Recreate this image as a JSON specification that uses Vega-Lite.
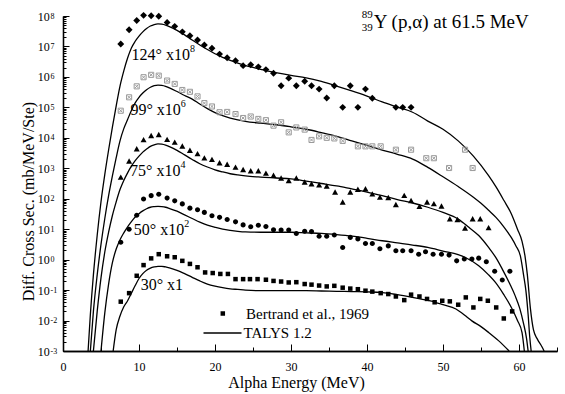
{
"$schema": "https://vega.github.io/schema/vega-lite/v6.json",
"width": 494, "height": 335,
"autosize": {"type": "none"},
"padding": {"left": 63, "top": 16, "right": 8, "bottom": 43},
"config": {
  "font": "Times New Roman, Liberation Serif, serif",
  "view": {"stroke": null},
  "text": {"font": "Times New Roman, Liberation Serif, serif"},
  "axis": {"grid": false, "domainColor": "black", "tickColor": "black", "labelColor": "black", "titleColor": "black", "labelFont": "Times New Roman, Liberation Serif, serif", "titleFont": "Times New Roman, Liberation Serif, serif", "titleFontWeight": "normal", "domainWidth": 1.3, "tickWidth": 1},
  "legend": {"labelFont": "Times New Roman, Liberation Serif, serif", "labelColor": "black", "padding": 0, "offset": 0}
},
"datasets": {
"pts": [
{"a":"124","E":7.6,"v":1.2e7},{"a":"124","E":8.7,"v":3.55e7},{"a":"124","E":9.7,"v":7.08e7},{"a":"124","E":10.6,"v":1.05e8},{"a":"124","E":11.6,"v":1.02e8},{"a":"124","E":12.6,"v":9.8e7},{"a":"124","E":13.7,"v":6.17e7},{"a":"124","E":14.7,"v":4.57e7},{"a":"124","E":15.7,"v":3.02e7},{"a":"124","E":16.7,"v":2.24e7},{"a":"124","E":17.7,"v":1.62e7},{"a":"124","E":18.6,"v":1.12e7},{"a":"124","E":19.6,"v":8.71e6},{"a":"124","E":20.6,"v":5.62e6},{"a":"124","E":21.6,"v":4.27e6},{"a":"124","E":22.7,"v":3.39e6},{"a":"124","E":23.7,"v":2.34e6},{"a":"124","E":24.7,"v":2.51e6},{"a":"124","E":25.7,"v":2.14e6},{"a":"124","E":26.7,"v":1.74e6},{"a":"124","E":27.7,"v":1.32e6},{"a":"124","E":28.7,"v":5.13e5},{"a":"124","E":29.7,"v":9.12e5},{"a":"124","E":30.7,"v":5.13e5},{"a":"124","E":31.8,"v":7.24e5},{"a":"124","E":32.7,"v":5.13e5},{"a":"124","E":33.7,"v":3.98e5},{"a":"124","E":34.7,"v":2.04e5},{"a":"124","E":35.7,"v":5.13e5},{"a":"124","E":36.8,"v":1e5},{"a":"124","E":37.8,"v":5.13e5},{"a":"124","E":38.8,"v":1e5},{"a":"124","E":39.8,"v":3.98e5},{"a":"124","E":40.7,"v":2e5},{"a":"124","E":43.8,"v":1e5},{"a":"124","E":44.7,"v":1e5},{"a":"124","E":45.8,"v":1e5},
{"a":"99","E":7.6,"v":7.76e4},{"a":"99","E":8.7,"v":2.14e5},{"a":"99","E":9.7,"v":4.9e5},{"a":"99","E":10.6,"v":9.77e5},{"a":"99","E":11.6,"v":1.17e6},{"a":"99","E":12.6,"v":1.1e6},{"a":"99","E":13.7,"v":7.59e5},{"a":"99","E":14.7,"v":5.89e5},{"a":"99","E":15.7,"v":3.72e5},{"a":"99","E":16.7,"v":3.24e5},{"a":"99","E":17.7,"v":2.29e5},{"a":"99","E":18.6,"v":1.38e5},{"a":"99","E":19.6,"v":1.07e5},{"a":"99","E":20.6,"v":6.92e4},{"a":"99","E":21.6,"v":7.08e4},{"a":"99","E":22.7,"v":6.03e4},{"a":"99","E":23.7,"v":4.47e4},{"a":"99","E":24.7,"v":5.01e4},{"a":"99","E":25.7,"v":4.17e4},{"a":"99","E":26.7,"v":3.8e4},{"a":"99","E":27.7,"v":2.51e4},{"a":"99","E":28.7,"v":3.24e4},{"a":"99","E":29.7,"v":1.51e4},{"a":"99","E":30.7,"v":2.19e4},{"a":"99","E":31.8,"v":1.86e4},{"a":"99","E":32.7,"v":8.51e3},{"a":"99","E":33.7,"v":1.12e4},{"a":"99","E":34.7,"v":1e4},{"a":"99","E":35.7,"v":9.55e3},{"a":"99","E":36.8,"v":7.94e3},{"a":"99","E":38.8,"v":5.25e3},{"a":"99","E":39.8,"v":5.25e3},{"a":"99","E":40.7,"v":5.25e3},{"a":"99","E":41.8,"v":5.25e3},{"a":"99","E":43.8,"v":4.07e3},{"a":"99","E":45.8,"v":4.07e3},{"a":"99","E":47.8,"v":2.14e3},{"a":"99","E":48.8,"v":2.14e3},{"a":"99","E":50.8,"v":1.02e3},{"a":"99","E":52.9,"v":4.07e3},{"a":"99","E":53.9,"v":1.02e3},
{"a":"75","E":7.6,"v":501},{"a":"75","E":8.7,"v":1700},{"a":"75","E":9.7,"v":4270},{"a":"75","E":10.6,"v":8510},{"a":"75","E":11.6,"v":11700},{"a":"75","E":12.6,"v":12600},{"a":"75","E":13.7,"v":8710},{"a":"75","E":14.7,"v":7080},{"a":"75","E":15.7,"v":5250},{"a":"75","E":16.7,"v":3800},{"a":"75","E":17.7,"v":2950},{"a":"75","E":18.6,"v":2140},{"a":"75","E":19.6,"v":1910},{"a":"75","E":20.6,"v":1480},{"a":"75","E":21.6,"v":1320},{"a":"75","E":22.7,"v":1070},{"a":"75","E":23.7,"v":891},{"a":"75","E":24.7,"v":813},{"a":"75","E":25.7,"v":813},{"a":"75","E":26.7,"v":676},{"a":"75","E":27.7,"v":575},{"a":"75","E":28.7,"v":468},{"a":"75","E":29.7,"v":389},{"a":"75","E":30.7,"v":468},{"a":"75","E":31.8,"v":347},{"a":"75","E":32.7,"v":302},{"a":"75","E":33.7,"v":282},{"a":"75","E":34.7,"v":257},{"a":"75","E":35.8,"v":162},{"a":"75","E":36.8,"v":75.9},{"a":"75","E":37.8,"v":162},{"a":"75","E":38.8,"v":200},{"a":"75","E":39.8,"v":209},{"a":"75","E":40.7,"v":141},{"a":"75","E":41.7,"v":110},{"a":"75","E":42.8,"v":107},{"a":"75","E":43.8,"v":63.1},{"a":"75","E":44.9,"v":126},{"a":"75","E":45.8,"v":85.1},{"a":"75","E":46.9,"v":55},{"a":"75","E":47.9,"v":75.9},{"a":"75","E":48.8,"v":67.6},{"a":"75","E":49.8,"v":56.2},{"a":"75","E":50.9,"v":21.4},{"a":"75","E":51.9,"v":20.4},{"a":"75","E":52.9,"v":10.7},{"a":"75","E":53.9,"v":21.4},{"a":"75","E":54.9,"v":21.4},{"a":"75","E":56.0,"v":11},
{"a":"50","E":7.6,"v":3.72},{"a":"50","E":8.7,"v":10},{"a":"50","E":9.7,"v":28.8},{"a":"50","E":10.6,"v":97.7},{"a":"50","E":11.6,"v":126},{"a":"50","E":12.6,"v":141},{"a":"50","E":13.7,"v":105},{"a":"50","E":14.7,"v":85.1},{"a":"50","E":15.7,"v":67.6},{"a":"50","E":16.7,"v":49},{"a":"50","E":17.7,"v":43.7},{"a":"50","E":18.6,"v":35.5},{"a":"50","E":19.6,"v":27.5},{"a":"50","E":20.6,"v":24.5},{"a":"50","E":21.6,"v":20.9},{"a":"50","E":22.7,"v":17.4},{"a":"50","E":23.7,"v":13.8},{"a":"50","E":24.7,"v":12},{"a":"50","E":25.7,"v":13.5},{"a":"50","E":26.7,"v":12.3},{"a":"50","E":27.7,"v":9.55},{"a":"50","E":28.7,"v":9.33},{"a":"50","E":29.7,"v":9.33},{"a":"50","E":30.7,"v":7.24},{"a":"50","E":31.8,"v":8.51},{"a":"50","E":32.7,"v":8.32},{"a":"50","E":33.7,"v":5.89},{"a":"50","E":34.7,"v":5.89},{"a":"50","E":35.7,"v":6.46},{"a":"50","E":36.8,"v":2.51},{"a":"50","E":37.8,"v":5.37},{"a":"50","E":38.8,"v":4.79},{"a":"50","E":39.8,"v":3.39},{"a":"50","E":40.7,"v":3.39},{"a":"50","E":41.7,"v":2.29},{"a":"50","E":42.8,"v":2.82},{"a":"50","E":43.8,"v":1.95},{"a":"50","E":44.7,"v":1.95},{"a":"50","E":45.8,"v":1.95},{"a":"50","E":46.8,"v":1.51},{"a":"50","E":47.7,"v":1.82},{"a":"50","E":48.7,"v":1.51},{"a":"50","E":49.8,"v":1.51},{"a":"50","E":50.8,"v":1.41},{"a":"50","E":51.8,"v":0.912},{"a":"50","E":52.8,"v":1.05},{"a":"50","E":53.8,"v":1.05},{"a":"50","E":54.7,"v":1.12},{"a":"50","E":55.7,"v":0.851},{"a":"50","E":56.8,"v":0.417},{"a":"50","E":57.8,"v":0.214},{"a":"50","E":58.8,"v":0.417},
{"a":"30","E":7.6,"v":0.0417},{"a":"30","E":8.7,"v":0.0794},{"a":"30","E":9.7,"v":0.295},{"a":"30","E":10.6,"v":0.661},{"a":"30","E":11.6,"v":1.1},{"a":"30","E":12.6,"v":1.51},{"a":"30","E":13.7,"v":1.29},{"a":"30","E":14.7,"v":1.2},{"a":"30","E":15.7,"v":0.912},{"a":"30","E":16.7,"v":0.724},{"a":"30","E":17.7,"v":0.562},{"a":"30","E":18.7,"v":0.38},{"a":"30","E":19.7,"v":0.363},{"a":"30","E":20.7,"v":0.339},{"a":"30","E":21.7,"v":0.339},{"a":"30","E":22.7,"v":0.229},{"a":"30","E":23.7,"v":0.229},{"a":"30","E":24.6,"v":0.229},{"a":"30","E":25.6,"v":0.229},{"a":"30","E":26.7,"v":0.219},{"a":"30","E":27.7,"v":0.2},{"a":"30","E":28.7,"v":0.191},{"a":"30","E":29.7,"v":0.178},{"a":"30","E":30.7,"v":0.182},{"a":"30","E":31.8,"v":0.158},{"a":"30","E":32.7,"v":0.151},{"a":"30","E":33.7,"v":0.141},{"a":"30","E":34.7,"v":0.132},{"a":"30","E":35.7,"v":0.138},{"a":"30","E":36.8,"v":0.12},{"a":"30","E":37.8,"v":0.112},{"a":"30","E":38.8,"v":0.107},{"a":"30","E":39.8,"v":0.0955},{"a":"30","E":40.7,"v":0.0891},{"a":"30","E":41.8,"v":0.0794},{"a":"30","E":42.8,"v":0.0741},{"a":"30","E":43.8,"v":0.0617},{"a":"30","E":44.9,"v":0.0468},{"a":"30","E":45.8,"v":0.0708},{"a":"30","E":46.9,"v":0.0617},{"a":"30","E":47.9,"v":0.0513},{"a":"30","E":48.9,"v":0.0398},{"a":"30","E":49.9,"v":0.0447},{"a":"30","E":50.9,"v":0.0427},{"a":"30","E":52.0,"v":0.0331},{"a":"30","E":53.0,"v":0.0575},{"a":"30","E":54.0,"v":0.0269},{"a":"30","E":54.9,"v":0.0513},{"a":"30","E":55.9,"v":0.0447},{"a":"30","E":57.0,"v":0.0269},{"a":"30","E":58.0,"v":0.0117},{"a":"30","E":59.1,"v":0.02}
],
"cur": [
{"a":"124","E":3.3,"v":0.001},{"a":"124","E":3.6,"v":0.0158},{"a":"124","E":4.0,"v":0.316},{"a":"124","E":4.5,"v":6.31},{"a":"124","E":5.0,"v":79.4},{"a":"124","E":5.5,"v":631},{"a":"124","E":6.0,"v":3980},{"a":"124","E":6.5,"v":22400},{"a":"124","E":7.0,"v":1.12e5},{"a":"124","E":7.5,"v":5.01e5},{"a":"124","E":8.0,"v":1.58e6},{"a":"124","E":8.5,"v":4.17e6},{"a":"124","E":9.0,"v":8.91e6},{"a":"124","E":9.5,"v":1.48e7},{"a":"124","E":10.0,"v":2.19e7},{"a":"124","E":10.5,"v":3.02e7},{"a":"124","E":11.0,"v":3.89e7},{"a":"124","E":11.5,"v":4.68e7},{"a":"124","E":12.0,"v":5.25e7},{"a":"124","E":12.5,"v":5.5e7},{"a":"124","E":13.0,"v":5.37e7},{"a":"124","E":13.5,"v":5.01e7},{"a":"124","E":14.0,"v":4.47e7},{"a":"124","E":15.0,"v":3.39e7},{"a":"124","E":16.0,"v":2.4e7},{"a":"124","E":17.0,"v":1.62e7},{"a":"124","E":18.0,"v":1.12e7},{"a":"124","E":19.0,"v":7.94e6},{"a":"124","E":20.0,"v":5.75e6},{"a":"124","E":21.0,"v":4.37e6},{"a":"124","E":22.0,"v":3.47e6},{"a":"124","E":23.0,"v":2.82e6},{"a":"124","E":24.0,"v":2.34e6},{"a":"124","E":25.0,"v":2.04e6},{"a":"124","E":26.0,"v":1.78e6},{"a":"124","E":27.0,"v":1.55e6},{"a":"124","E":28.0,"v":1.38e6},{"a":"124","E":30.0,"v":1.12e6},{"a":"124","E":32.0,"v":9.33e5},{"a":"124","E":34.0,"v":7.08e5},{"a":"124","E":36.0,"v":5.01e5},{"a":"124","E":38.0,"v":3.47e5},{"a":"124","E":40.0,"v":2.34e5},{"a":"124","E":42.0,"v":1.51e5},{"a":"124","E":44.0,"v":1.02e5},{"a":"124","E":46.0,"v":6.92e4},{"a":"124","E":48.0,"v":3.55e4},{"a":"124","E":50.0,"v":1.91e4},{"a":"124","E":52.0,"v":7940},{"a":"124","E":54.0,"v":2510},{"a":"124","E":56.0,"v":575},{"a":"124","E":57.0,"v":240},{"a":"124","E":58.0,"v":89.1},{"a":"124","E":59.0,"v":31.6},{"a":"124","E":59.8,"v":10},{"a":"124","E":60.4,"v":3.98},{"a":"124","E":60.8,"v":1.26},{"a":"124","E":61.1,"v":0.316},{"a":"124","E":61.5,"v":0.0251},{"a":"124","E":61.9,"v":0.005},{"a":"124","E":62.4,"v":0.0025},{"a":"124","E":63.0,"v":0.00141},{"a":"124","E":63.3,"v":0.001},
{"a":"99","E":3.6,"v":0.001},{"a":"99","E":4.0,"v":0.02},{"a":"99","E":4.5,"v":0.316},{"a":"99","E":5.0,"v":3.16},{"a":"99","E":5.5,"v":22.4},{"a":"99","E":6.0,"v":126},{"a":"99","E":6.5,"v":562},{"a":"99","E":7.0,"v":2240},{"a":"99","E":7.5,"v":7940},{"a":"99","E":8.0,"v":20000},{"a":"99","E":8.5,"v":39800},{"a":"99","E":9.0,"v":79400},{"a":"99","E":9.5,"v":1.41e5},{"a":"99","E":10.0,"v":2.14e5},{"a":"99","E":10.5,"v":2.95e5},{"a":"99","E":11.0,"v":3.8e5},{"a":"99","E":11.5,"v":4.57e5},{"a":"99","E":12.0,"v":5.13e5},{"a":"99","E":12.5,"v":5.37e5},{"a":"99","E":13.0,"v":5.25e5},{"a":"99","E":13.5,"v":4.9e5},{"a":"99","E":14.0,"v":4.37e5},{"a":"99","E":15.0,"v":3.31e5},{"a":"99","E":16.0,"v":2.45e5},{"a":"99","E":17.0,"v":1.86e5},{"a":"99","E":18.0,"v":1.29e5},{"a":"99","E":19.0,"v":9.12e4},{"a":"99","E":20.0,"v":6.76e4},{"a":"99","E":21.0,"v":5.37e4},{"a":"99","E":22.0,"v":4.47e4},{"a":"99","E":23.0,"v":3.89e4},{"a":"99","E":24.0,"v":3.47e4},{"a":"99","E":26.0,"v":3.02e4},{"a":"99","E":28.0,"v":2.69e4},{"a":"99","E":30.0,"v":2.29e4},{"a":"99","E":32.0,"v":1.91e4},{"a":"99","E":34.0,"v":1.48e4},{"a":"99","E":36.0,"v":1.12e4},{"a":"99","E":38.0,"v":7940},{"a":"99","E":40.0,"v":5620},{"a":"99","E":42.0,"v":3980},{"a":"99","E":44.0,"v":2880},{"a":"99","E":46.0,"v":2000},{"a":"99","E":48.0,"v":1070},{"a":"99","E":50.0,"v":525},{"a":"99","E":52.0,"v":251},{"a":"99","E":54.0,"v":112},{"a":"99","E":55.0,"v":70.8},{"a":"99","E":56.0,"v":41.7},{"a":"99","E":57.0,"v":24},{"a":"99","E":58.0,"v":12},{"a":"99","E":59.0,"v":5.25},{"a":"99","E":59.6,"v":2.82},{"a":"99","E":60.2,"v":1.26},{"a":"99","E":60.6,"v":0.316},{"a":"99","E":60.9,"v":0.1},{"a":"99","E":61.2,"v":0.0158},{"a":"99","E":61.4,"v":0.00316},{"a":"99","E":61.6,"v":0.001},
{"a":"75","E":4.0,"v":0.001},{"a":"75","E":4.5,"v":0.02},{"a":"75","E":5.0,"v":0.251},{"a":"75","E":5.5,"v":1.78},{"a":"75","E":6.0,"v":7.94},{"a":"75","E":6.5,"v":28.2},{"a":"75","E":7.0,"v":79.4},{"a":"75","E":7.5,"v":200},{"a":"75","E":8.0,"v":398},{"a":"75","E":8.5,"v":708},{"a":"75","E":9.0,"v":1170},{"a":"75","E":9.5,"v":1780},{"a":"75","E":10.0,"v":2510},{"a":"75","E":10.5,"v":3390},{"a":"75","E":11.0,"v":4270},{"a":"75","E":11.5,"v":5250},{"a":"75","E":12.0,"v":5890},{"a":"75","E":12.5,"v":6310},{"a":"75","E":13.0,"v":6170},{"a":"75","E":13.5,"v":5750},{"a":"75","E":14.0,"v":5130},{"a":"75","E":15.0,"v":3890},{"a":"75","E":16.0,"v":2750},{"a":"75","E":17.0,"v":1950},{"a":"75","E":18.0,"v":1410},{"a":"75","E":19.0,"v":1100},{"a":"75","E":20.0,"v":891},{"a":"75","E":21.0,"v":759},{"a":"75","E":22.0,"v":661},{"a":"75","E":23.0,"v":603},{"a":"75","E":24.0,"v":562},{"a":"75","E":26.0,"v":513},{"a":"75","E":28.0,"v":479},{"a":"75","E":30.0,"v":447},{"a":"75","E":32.0,"v":380},{"a":"75","E":34.0,"v":316},{"a":"75","E":36.0,"v":263},{"a":"75","E":38.0,"v":209},{"a":"75","E":40.0,"v":166},{"a":"75","E":42.0,"v":126},{"a":"75","E":44.0,"v":93.3},{"a":"75","E":46.0,"v":72.4},{"a":"75","E":48.0,"v":52.5},{"a":"75","E":50.0,"v":35.5},{"a":"75","E":52.0,"v":21.4},{"a":"75","E":53.4,"v":11.5},{"a":"75","E":54.7,"v":6.17},{"a":"75","E":56.0,"v":2.51},{"a":"75","E":57.0,"v":1.12},{"a":"75","E":57.8,"v":0.49},{"a":"75","E":58.8,"v":0.158},{"a":"75","E":59.5,"v":0.0646},{"a":"75","E":60.1,"v":0.0251},{"a":"75","E":60.6,"v":0.00794},{"a":"75","E":61.0,"v":0.00251},{"a":"75","E":61.2,"v":0.001},
{"a":"50","E":5.0,"v":0.001},{"a":"50","E":5.5,"v":0.0178},{"a":"50","E":6.0,"v":0.158},{"a":"50","E":6.5,"v":0.794},{"a":"50","E":7.0,"v":2.24},{"a":"50","E":7.5,"v":4.47},{"a":"50","E":8.0,"v":7.59},{"a":"50","E":8.5,"v":12},{"a":"50","E":9.0,"v":17.8},{"a":"50","E":9.5,"v":25.1},{"a":"50","E":10.0,"v":32.4},{"a":"50","E":10.5,"v":39.8},{"a":"50","E":11.0,"v":46.8},{"a":"50","E":11.5,"v":52.5},{"a":"50","E":12.0,"v":55},{"a":"50","E":12.5,"v":56.2},{"a":"50","E":13.0,"v":55},{"a":"50","E":13.5,"v":52.5},{"a":"50","E":14.0,"v":47.9},{"a":"50","E":15.0,"v":38.9},{"a":"50","E":16.0,"v":29.5},{"a":"50","E":17.0,"v":22.4},{"a":"50","E":18.0,"v":17},{"a":"50","E":19.0,"v":13.5},{"a":"50","E":20.0,"v":11.5},{"a":"50","E":21.0,"v":10},{"a":"50","E":22.0,"v":9.12},{"a":"50","E":23.0,"v":8.51},{"a":"50","E":24.0,"v":8.13},{"a":"50","E":26.0,"v":7.94},{"a":"50","E":28.0,"v":7.94},{"a":"50","E":30.0,"v":7.94},{"a":"50","E":32.0,"v":7.59},{"a":"50","E":34.0,"v":7.24},{"a":"50","E":36.0,"v":6.61},{"a":"50","E":38.0,"v":5.89},{"a":"50","E":40.0,"v":5.01},{"a":"50","E":42.0,"v":4.17},{"a":"50","E":44.0,"v":3.55},{"a":"50","E":46.0,"v":3.02},{"a":"50","E":48.0,"v":2.51},{"a":"50","E":50.0,"v":1.91},{"a":"50","E":52.0,"v":1.45},{"a":"50","E":53.0,"v":1.15},{"a":"50","E":54.7,"v":0.631},{"a":"50","E":56.0,"v":0.316},{"a":"50","E":56.9,"v":0.178},{"a":"50","E":58.0,"v":0.0708},{"a":"50","E":59.1,"v":0.024},{"a":"50","E":59.8,"v":0.01},{"a":"50","E":60.4,"v":0.00398},{"a":"50","E":60.7,"v":0.001},
{"a":"30","E":6.6,"v":0.001},{"a":"30","E":7.0,"v":0.005},{"a":"30","E":7.5,"v":0.0141},{"a":"30","E":8.0,"v":0.0282},{"a":"30","E":8.5,"v":0.0447},{"a":"30","E":9.0,"v":0.0794},{"a":"30","E":9.5,"v":0.141},{"a":"30","E":10.0,"v":0.24},{"a":"30","E":10.5,"v":0.347},{"a":"30","E":11.0,"v":0.447},{"a":"30","E":11.5,"v":0.525},{"a":"30","E":12.0,"v":0.575},{"a":"30","E":12.5,"v":0.603},{"a":"30","E":13.0,"v":0.603},{"a":"30","E":13.5,"v":0.575},{"a":"30","E":14.0,"v":0.537},{"a":"30","E":15.0,"v":0.447},{"a":"30","E":16.0,"v":0.347},{"a":"30","E":17.0,"v":0.263},{"a":"30","E":18.0,"v":0.2},{"a":"30","E":19.0,"v":0.158},{"a":"30","E":20.0,"v":0.135},{"a":"30","E":21.0,"v":0.12},{"a":"30","E":22.0,"v":0.11},{"a":"30","E":23.0,"v":0.105},{"a":"30","E":24.0,"v":0.1},{"a":"30","E":26.0,"v":0.0955},{"a":"30","E":28.0,"v":0.0955},{"a":"30","E":30.0,"v":0.0955},{"a":"30","E":32.0,"v":0.0955},{"a":"30","E":34.0,"v":0.0933},{"a":"30","E":36.0,"v":0.0912},{"a":"30","E":38.0,"v":0.0891},{"a":"30","E":40.0,"v":0.0871},{"a":"30","E":42.0,"v":0.0832},{"a":"30","E":44.0,"v":0.0708},{"a":"30","E":46.0,"v":0.0575},{"a":"30","E":48.0,"v":0.0457},{"a":"30","E":49.0,"v":0.0398},{"a":"30","E":50.0,"v":0.0331},{"a":"30","E":51.7,"v":0.024},{"a":"30","E":53.0,"v":0.0141},{"a":"30","E":53.8,"v":0.00977},{"a":"30","E":55.0,"v":0.00631},{"a":"30","E":56.0,"v":0.00407},{"a":"30","E":57.3,"v":0.00219},{"a":"30","E":58.7,"v":0.001}
],
"lab": [
{"t":"124° x10","s":"8","E":16.7,"v":5.1e6},
{"t":"99° x10","s":"6","E":15.5,"v":8.5e4},
{"t":"75° x10","s":"4","E":15.45,"v":813},
{"t":"50° x10","s":"2","E":15.95,"v":9.3},
{"t":"30° x1","s":"","E":15.8,"v":0.145}
],
"ttl": [
{"t":"Y (p,α) at 61.5 MeV","sup":"89","sub":"39","E":40.9,"v":4.17e7}
]
},
"layer": [
{
 "data": {"name": "cur"},
 "mark": {"type": "line", "strokeWidth": 1.3, "interpolate": "monotone"},
 "encoding": {
  "x": {"field": "E", "type": "quantitative", "scale": {"domain": [0, 65], "nice": false, "zero": false},
        "axis": {"orient": "bottom", "values": [0,10,20,30,40,50,60], "tickSize": -7, "labelPadding": 17, "labelFontSize": 12, "labelFlush": false, "labelOverlap": false,
                 "labelFont": "Times New Roman, Liberation Serif, serif", "titleFont": "Times New Roman, Liberation Serif, serif",
                 "title": "Alpha Energy (MeV)", "titleFontSize": 16, "titleX": 233, "titleY": 36, "titleBaseline": "alphabetic"}},
  "y": {"field": "v", "type": "quantitative", "scale": {"type": "log", "domain": [0.001, 1e8], "nice": false},
        "axis": {"orient": "left", "values": [0.001,0.01,0.1,1,10,100,1000,10000,100000,1000000,10000000,100000000], "labelExpr": "'10'", "tickSize": -6, "labelPadding": 19.7, "labelFontSize": 12, "labelBaseline": "middle", "labelDy": 1, "labelOverlap": false,
                 "labelFont": "Times New Roman, Liberation Serif, serif", "titleFont": "Times New Roman, Liberation Serif, serif",
                 "title": "Diff. Cross Sec. (mb/MeV/Ste)", "titleFontSize": 16, "titleX": -27, "titleY": 185, "titleAngle": 270, "titleBaseline": "bottom", "titleAlign": "center"}},
  "detail": {"field": "a", "type": "nominal"},
  "color": {"datum": "TALYS 1.2", "scale": {"range": ["black"]},
            "legend": {"orient": "none", "legendX": 139.5, "legendY": 297, "title": null, "symbolType": "stroke", "symbolSize": 1444, "symbolStrokeWidth": 1.3, "symbolStrokeColor": "black", "labelFontSize": 15, "labelOffset": 1, "labelFont": "Times New Roman, Liberation Serif, serif"}}
 }
},
{
 "data": {"name": "pts"},
 "mark": {"type": "point", "filled": true, "opacity": 1, "strokeWidth": 1, "size": 36, "color": "black"},
 "encoding": {
  "x": {"field": "E", "type": "quantitative", "scale": {"domain": [0, 65], "nice": false, "zero": false},
        "axis": {"orient": "bottom", "values": [5,15,25,35,45,55,65], "tickSize": -4, "labels": false, "title": null}},
  "y": {"field": "v", "type": "quantitative", "scale": {"type": "log", "domain": [0.001, 1e8], "nice": false},
        "axis": {"orient": "left", "values": [2e-3,3e-3,4e-3,5e-3,6e-3,7e-3,8e-3,9e-3,2e-2,3e-2,4e-2,5e-2,6e-2,7e-2,8e-2,9e-2,0.2,0.3,0.4,0.5,0.6,0.7,0.8,0.9,2,3,4,5,6,7,8,9,20,30,40,50,60,70,80,90,200,300,400,500,600,700,800,900,2000,3000,4000,5000,6000,7000,8000,9000,2e4,3e4,4e4,5e4,6e4,7e4,8e4,9e4,2e5,3e5,4e5,5e5,6e5,7e5,8e5,9e5,2e6,3e6,4e6,5e6,6e6,7e6,8e6,9e6,2e7,3e7,4e7,5e7,6e7,7e7,8e7,9e7], "tickSize": -3, "labels": false, "title": null}},
  "shape": {"field": "a", "type": "nominal",
            "scale": {"domain": ["124","99","75","50","30"], "range": ["M0,-1.15L1.15,0L0,1.15L-1.15,0Z", "M-0.85,-0.85H0.85V0.85H-0.85Z M-0.55,-0.55L0.55,0.55 M-0.55,0.55L0.55,-0.55", "M0,-1L1,0.8H-1Z", "M0.85,0A0.85,0.85 0 1,1 -0.85,0A0.85,0.85 0 1,1 0.85,0Z", "M-0.75,-0.75H0.75V0.75H-0.75Z"]},
            "legend": {"orient": "none", "legendX": 152.3, "legendY": 290, "title": null, "values": ["30"], "labelExpr": "'Bertrand et al., 1969'", "labelFontSize": 15, "labelOffset": 15.7, "symbolSize": 36, "symbolStrokeWidth": 0, "labelFont": "Times New Roman, Liberation Serif, serif"}},
  "fill": {"field": "a", "type": "nominal", "scale": {"domain": ["124","99","75","50","30"], "range": ["black","transparent","black","black","black"]}},
  "stroke": {"field": "a", "type": "nominal", "scale": {"domain": ["124","99","75","50","30"], "range": ["transparent","#9a9a9a","transparent","transparent","transparent"]}}
 }
},
{
 "data": {"name": "lab"},
 "mark": {"type": "text", "align": "right", "baseline": "middle", "fontSize": 16, "color": "black", "font": "Times New Roman, Liberation Serif, serif"},
 "encoding": {
  "x": {"field": "E", "type": "quantitative", "scale": {"domain": [0, 65], "nice": false, "zero": false}, "axis": null},
  "y": {"field": "v", "type": "quantitative", "scale": {"type": "log", "domain": [0.001, 1e8], "nice": false},
        "axis": {"orient": "left", "values": [0.001,0.01,0.1,1,10,100,1000,10000,100000,1000000,10000000,100000000], "labelExpr": "'' + round(log(datum.value)/LN10)", "ticks": false, "tickSize": 0, "domain": false, "labelAlign": "left", "labelPadding": 13, "labelFontSize": 8, "labelBaseline": "middle", "labelDy": -4, "labelOverlap": false, "title": null, "labelFont": "Times New Roman, Liberation Serif, serif"}},
  "text": {"field": "t"}
 }
},
{
 "data": {"name": "lab"},
 "mark": {"type": "text", "align": "left", "baseline": "middle", "fontSize": 10, "dy": -6, "color": "black", "font": "Times New Roman, Liberation Serif, serif"},
 "encoding": {
  "x": {"field": "E", "type": "quantitative", "scale": {"domain": [0, 65], "nice": false, "zero": false}, "axis": null},
  "y": {"field": "v", "type": "quantitative", "scale": {"type": "log", "domain": [0.001, 1e8], "nice": false}, "axis": null},
  "text": {"field": "s"}
 }
},
{
 "data": {"name": "ttl"},
 "mark": {"type": "text", "align": "left", "baseline": "alphabetic", "fontSize": 19, "color": "black", "font": "Times New Roman, Liberation Serif, serif"},
 "encoding": {
  "x": {"field": "E", "type": "quantitative", "scale": {"domain": [0, 65], "nice": false, "zero": false}, "axis": null},
  "y": {"field": "v", "type": "quantitative", "scale": {"type": "log", "domain": [0.001, 1e8], "nice": false}, "axis": null},
  "text": {"field": "t"}
 }
},
{
 "data": {"name": "ttl"},
 "mark": {"type": "text", "align": "right", "baseline": "alphabetic", "fontSize": 11, "dx": -1, "dy": -10, "color": "black", "font": "Times New Roman, Liberation Serif, serif"},
 "encoding": {
  "x": {"field": "E", "type": "quantitative", "scale": {"domain": [0, 65], "nice": false, "zero": false}, "axis": null},
  "y": {"field": "v", "type": "quantitative", "scale": {"type": "log", "domain": [0.001, 1e8], "nice": false}, "axis": null},
  "text": {"field": "sup"}
 }
},
{
 "data": {"name": "ttl"},
 "mark": {"type": "text", "align": "right", "baseline": "alphabetic", "fontSize": 11, "dx": -1, "dy": 3, "color": "black", "font": "Times New Roman, Liberation Serif, serif"},
 "encoding": {
  "x": {"field": "E", "type": "quantitative", "scale": {"domain": [0, 65], "nice": false, "zero": false}, "axis": null},
  "y": {"field": "v", "type": "quantitative", "scale": {"type": "log", "domain": [0.001, 1e8], "nice": false}, "axis": null},
  "text": {"field": "sub"}
 }
}
],
"resolve": {"axis": {"x": "independent", "y": "independent"}}
}
